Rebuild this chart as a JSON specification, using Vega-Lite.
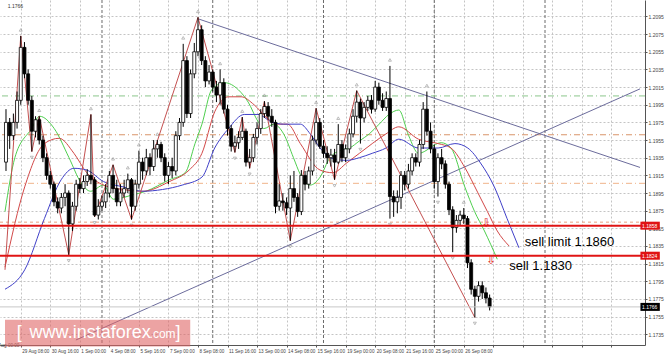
{
"$schema":"https://vega.github.io/schema/vega-lite/v6.json",
"width":645,"height":345,"padding":{"left":0,"top":0,"right":20,"bottom":13},"autosize":{"type":"none"},
"background":"#ffffff",
"config":{"view":{"stroke":null},"axis":{"labelFont":"Liberation Sans","labelFontSize":5,"labelColor":"#444"}},
"resolve":{"scale":{"color":"independent","strokeDash":"independent"},"axis":{"x":"independent","y":"independent"}},
"datasets":{
"candles":[
{"t":-4,"o":1.193,"h":1.199,"l":1.192,"c":1.1975},
{"t":-3,"o":1.1975,"h":1.198,"l":1.1945,"c":1.196},
{"t":-2,"o":1.196,"h":1.1985,"l":1.1955,"c":1.1975},
{"t":-1,"o":1.1975,"h":1.201,"l":1.1968,"c":1.2},
{"t":0,"o":1.2,"h":1.2073,"l":1.1995,"c":1.206},
{"t":1,"o":1.206,"h":1.2066,"l":1.2025,"c":1.203},
{"t":2,"o":1.203,"h":1.2035,"l":1.1995,"c":1.2},
{"t":3,"o":1.2,"h":1.2005,"l":1.1942,"c":1.1965},
{"t":4,"o":1.1965,"h":1.1982,"l":1.1958,"c":1.1978},
{"t":5,"o":1.1978,"h":1.1982,"l":1.195,"c":1.1955},
{"t":6,"o":1.1955,"h":1.196,"l":1.193,"c":1.1935},
{"t":7,"o":1.1935,"h":1.194,"l":1.191,"c":1.1915},
{"t":8,"o":1.1915,"h":1.192,"l":1.19,"c":1.1905},
{"t":9,"o":1.1905,"h":1.1908,"l":1.188,"c":1.1885},
{"t":10,"o":1.1885,"h":1.189,"l":1.1872,"c":1.1878},
{"t":11,"o":1.1878,"h":1.1895,"l":1.1872,"c":1.189},
{"t":12,"o":1.189,"h":1.1905,"l":1.188,"c":1.1895},
{"t":13,"o":1.1895,"h":1.1898,"l":1.1825,"c":1.186},
{"t":14,"o":1.186,"h":1.1885,"l":1.1852,"c":1.188},
{"t":15,"o":1.188,"h":1.191,"l":1.1875,"c":1.1905},
{"t":16,"o":1.1905,"h":1.1912,"l":1.1895,"c":1.19},
{"t":17,"o":1.19,"h":1.1915,"l":1.1895,"c":1.1908},
{"t":18,"o":1.1908,"h":1.1922,"l":1.1903,"c":1.1915},
{"t":19,"o":1.1915,"h":1.1984,"l":1.1905,"c":1.191},
{"t":20,"o":1.191,"h":1.1913,"l":1.1868,"c":1.187},
{"t":21,"o":1.187,"h":1.1888,"l":1.1865,"c":1.188},
{"t":22,"o":1.188,"h":1.1892,"l":1.1875,"c":1.1885},
{"t":23,"o":1.1885,"h":1.1905,"l":1.1878,"c":1.1895},
{"t":24,"o":1.1895,"h":1.192,"l":1.189,"c":1.1915},
{"t":25,"o":1.1915,"h":1.1927,"l":1.1895,"c":1.19},
{"t":26,"o":1.19,"h":1.191,"l":1.188,"c":1.1885},
{"t":27,"o":1.1885,"h":1.1905,"l":1.188,"c":1.1895},
{"t":28,"o":1.1895,"h":1.191,"l":1.189,"c":1.19},
{"t":29,"o":1.19,"h":1.1917,"l":1.1895,"c":1.191},
{"t":30,"o":1.191,"h":1.1912,"l":1.1865,"c":1.188},
{"t":31,"o":1.188,"h":1.191,"l":1.1875,"c":1.1905},
{"t":32,"o":1.1905,"h":1.1943,"l":1.19,"c":1.193},
{"t":33,"o":1.193,"h":1.1935,"l":1.191,"c":1.192},
{"t":34,"o":1.192,"h":1.1945,"l":1.1915,"c":1.1935},
{"t":35,"o":1.1935,"h":1.194,"l":1.1915,"c":1.1925},
{"t":36,"o":1.1925,"h":1.1955,"l":1.192,"c":1.1945},
{"t":37,"o":1.1945,"h":1.1955,"l":1.1935,"c":1.195},
{"t":38,"o":1.195,"h":1.1953,"l":1.193,"c":1.1935},
{"t":39,"o":1.1935,"h":1.194,"l":1.1908,"c":1.1915},
{"t":40,"o":1.1915,"h":1.193,"l":1.1905,"c":1.1925},
{"t":41,"o":1.1925,"h":1.1935,"l":1.1912,"c":1.192},
{"t":42,"o":1.192,"h":1.1965,"l":1.1915,"c":1.196},
{"t":43,"o":1.196,"h":1.198,"l":1.1955,"c":1.1975},
{"t":44,"o":1.1975,"h":1.2064,"l":1.197,"c":1.2045},
{"t":45,"o":1.2045,"h":1.205,"l":1.198,"c":1.1985},
{"t":46,"o":1.1985,"h":1.2035,"l":1.198,"c":1.203},
{"t":47,"o":1.203,"h":1.2065,"l":1.2025,"c":1.2055},
{"t":48,"o":1.2055,"h":1.2094,"l":1.205,"c":1.208},
{"t":49,"o":1.208,"h":1.2085,"l":1.204,"c":1.2045},
{"t":50,"o":1.2045,"h":1.205,"l":1.2015,"c":1.2022},
{"t":51,"o":1.2022,"h":1.204,"l":1.2018,"c":1.2032},
{"t":52,"o":1.2032,"h":1.2035,"l":1.201,"c":1.2015},
{"t":53,"o":1.2015,"h":1.2022,"l":1.1998,"c":1.2006},
{"t":54,"o":1.2006,"h":1.2035,"l":1.1995,"c":1.202},
{"t":55,"o":1.202,"h":1.2025,"l":1.1985,"c":1.199},
{"t":56,"o":1.199,"h":1.1995,"l":1.196,"c":1.1968},
{"t":57,"o":1.1968,"h":1.1972,"l":1.1942,"c":1.1948},
{"t":58,"o":1.1948,"h":1.196,"l":1.1941,"c":1.1952},
{"t":59,"o":1.1952,"h":1.1965,"l":1.1945,"c":1.1958},
{"t":60,"o":1.1958,"h":1.1981,"l":1.1955,"c":1.1965},
{"t":61,"o":1.1965,"h":1.1968,"l":1.1925,"c":1.193},
{"t":62,"o":1.193,"h":1.1945,"l":1.1923,"c":1.1935},
{"t":63,"o":1.1935,"h":1.1962,"l":1.193,"c":1.1958},
{"t":64,"o":1.1958,"h":1.1975,"l":1.195,"c":1.1968},
{"t":65,"o":1.1968,"h":1.199,"l":1.1962,"c":1.1985},
{"t":66,"o":1.1985,"h":1.1999,"l":1.198,"c":1.1993},
{"t":67,"o":1.1993,"h":1.1998,"l":1.1978,"c":1.1982},
{"t":68,"o":1.1982,"h":1.199,"l":1.197,"c":1.1975},
{"t":69,"o":1.1975,"h":1.1978,"l":1.1872,"c":1.188},
{"t":70,"o":1.188,"h":1.1905,"l":1.1875,"c":1.1886},
{"t":71,"o":1.1886,"h":1.1895,"l":1.1875,"c":1.1884},
{"t":72,"o":1.1884,"h":1.189,"l":1.187,"c":1.1878},
{"t":73,"o":1.1878,"h":1.1915,"l":1.1841,"c":1.19},
{"t":74,"o":1.19,"h":1.192,"l":1.1885,"c":1.189},
{"t":75,"o":1.189,"h":1.1895,"l":1.1868,"c":1.1874},
{"t":76,"o":1.1874,"h":1.1921,"l":1.187,"c":1.1915},
{"t":77,"o":1.1915,"h":1.192,"l":1.1898,"c":1.1905},
{"t":78,"o":1.1905,"h":1.1925,"l":1.19,"c":1.192},
{"t":79,"o":1.192,"h":1.196,"l":1.1915,"c":1.1955},
{"t":80,"o":1.1955,"h":1.1991,"l":1.195,"c":1.1975},
{"t":81,"o":1.1975,"h":1.198,"l":1.1945,"c":1.1948},
{"t":82,"o":1.1948,"h":1.1955,"l":1.1935,"c":1.194},
{"t":83,"o":1.194,"h":1.1948,"l":1.1928,"c":1.1935},
{"t":84,"o":1.1935,"h":1.1945,"l":1.1925,"c":1.1938},
{"t":85,"o":1.1938,"h":1.1945,"l":1.191,"c":1.193},
{"t":86,"o":1.193,"h":1.1973,"l":1.1928,"c":1.195},
{"t":87,"o":1.195,"h":1.1955,"l":1.193,"c":1.1935},
{"t":88,"o":1.1935,"h":1.195,"l":1.193,"c":1.1945},
{"t":89,"o":1.1945,"h":1.1968,"l":1.194,"c":1.1962},
{"t":90,"o":1.1962,"h":1.199,"l":1.1958,"c":1.1982},
{"t":91,"o":1.1982,"h":1.2011,"l":1.1975,"c":1.1998},
{"t":92,"o":1.1998,"h":1.2002,"l":1.1951,"c":1.198},
{"t":93,"o":1.198,"h":1.1998,"l":1.1975,"c":1.1992},
{"t":94,"o":1.1992,"h":1.2005,"l":1.1988,"c":1.2},
{"t":95,"o":1.2,"h":1.2006,"l":1.1985,"c":1.199},
{"t":96,"o":1.199,"h":1.2022,"l":1.1987,"c":1.2015},
{"t":97,"o":1.2015,"h":1.202,"l":1.1995,"c":1.2},
{"t":98,"o":1.2,"h":1.2008,"l":1.1988,"c":1.1992},
{"t":99,"o":1.1992,"h":1.201,"l":1.1988,"c":1.2002},
{"t":100,"o":1.2002,"h":1.2039,"l":1.1866,"c":1.1891},
{"t":101,"o":1.1891,"h":1.1898,"l":1.1868,"c":1.1885},
{"t":102,"o":1.1885,"h":1.1898,"l":1.1872,"c":1.189},
{"t":103,"o":1.189,"h":1.192,"l":1.1877,"c":1.1915},
{"t":104,"o":1.1915,"h":1.192,"l":1.1898,"c":1.1905},
{"t":105,"o":1.1905,"h":1.1928,"l":1.19,"c":1.192},
{"t":106,"o":1.192,"h":1.194,"l":1.1915,"c":1.1935},
{"t":107,"o":1.1935,"h":1.194,"l":1.1925,"c":1.193},
{"t":108,"o":1.193,"h":1.1955,"l":1.1925,"c":1.195},
{"t":109,"o":1.195,"h":1.1998,"l":1.1945,"c":1.199},
{"t":110,"o":1.199,"h":1.201,"l":1.196,"c":1.1965},
{"t":111,"o":1.1965,"h":1.1975,"l":1.194,"c":1.1945},
{"t":112,"o":1.1945,"h":1.195,"l":1.19,"c":1.1908},
{"t":113,"o":1.1908,"h":1.194,"l":1.1891,"c":1.1935},
{"t":114,"o":1.1935,"h":1.1945,"l":1.1922,"c":1.1928},
{"t":115,"o":1.1928,"h":1.1932,"l":1.19,"c":1.1905},
{"t":116,"o":1.1905,"h":1.1908,"l":1.187,"c":1.1876},
{"t":117,"o":1.1876,"h":1.188,"l":1.1828,"c":1.1856},
{"t":118,"o":1.1856,"h":1.187,"l":1.185,"c":1.1864},
{"t":119,"o":1.1864,"h":1.1875,"l":1.1858,"c":1.187},
{"t":120,"o":1.187,"h":1.1878,"l":1.186,"c":1.1866},
{"t":121,"o":1.1866,"h":1.1869,"l":1.181,"c":1.1816},
{"t":122,"o":1.1816,"h":1.182,"l":1.178,"c":1.1786},
{"t":123,"o":1.1786,"h":1.179,"l":1.1754,"c":1.1778},
{"t":124,"o":1.1778,"h":1.1795,"l":1.1772,"c":1.179},
{"t":125,"o":1.179,"h":1.1795,"l":1.1775,"c":1.1782},
{"t":126,"o":1.1782,"h":1.1788,"l":1.177,"c":1.1776},
{"t":127,"o":1.1776,"h":1.178,"l":1.1762,"c":1.1766}
],
"fup":[{"t":0,"p":1.2073},{"t":5,"p":1.1982},{"t":19,"p":1.1984},{"t":25,"p":1.1927},{"t":29,"p":1.1917},{"t":32,"p":1.1943},{"t":37,"p":1.1955},{"t":44,"p":1.2064},{"t":48,"p":1.2094},{"t":54,"p":1.2035},{"t":60,"p":1.1981},{"t":66,"p":1.1999},{"t":80,"p":1.1991},{"t":86,"p":1.1973},{"t":91,"p":1.2011},{"t":100,"p":1.2039},{"t":110,"p":1.201},{"t":120,"p":1.1878}],
"fdn":[{"t":3,"p":1.1942},{"t":13,"p":1.1825},{"t":20,"p":1.1868},{"t":30,"p":1.1865},{"t":58,"p":1.1941},{"t":62,"p":1.1923},{"t":73,"p":1.1841},{"t":85,"p":1.191},{"t":92,"p":1.1951},{"t":100,"p":1.1866},{"t":113,"p":1.1891},{"t":117,"p":1.1828},{"t":123,"p":1.1754}],
"ma":[
{"m":"lips","t":-4.27,"p":1.1874},{"m":"lips","t":-1.6,"p":1.1935},{"m":"lips","t":2.93,"p":1.1968},{"m":"lips","t":5.07,"p":1.1982},{"m":"lips","t":9.07,"p":1.1968},{"m":"lips","t":13.07,"p":1.1935},{"m":"lips","t":16.27,"p":1.1907},{"m":"lips","t":18.93,"p":1.1897},{"m":"lips","t":22.4,"p":1.1904},{"m":"lips","t":25.07,"p":1.1888},{"m":"lips","t":30.4,"p":1.1893},{"m":"lips","t":33.87,"p":1.1897},{"m":"lips","t":40.27,"p":1.191},{"m":"lips","t":44.53,"p":1.1918},{"m":"lips","t":47.2,"p":1.1951},{"m":"lips","t":49.07,"p":1.1973},{"m":"lips","t":51.73,"p":1.2012},{"m":"lips","t":55.2,"p":1.202},{"m":"lips","t":58.93,"p":1.2012},{"m":"lips","t":61.6,"p":1.1998},{"m":"lips","t":64.27,"p":1.1976},{"m":"lips","t":65.87,"p":1.1968},{"m":"lips","t":68.53,"p":1.1973},{"m":"lips","t":71.2,"p":1.1962},{"m":"lips","t":73.87,"p":1.1935},{"m":"lips","t":75.73,"p":1.1916},{"m":"lips","t":78.4,"p":1.1904},{"m":"lips","t":81.07,"p":1.1913},{"m":"lips","t":83.73,"p":1.1935},{"m":"lips","t":86.4,"p":1.1943},{"m":"lips","t":89.07,"p":1.1946},{"m":"lips","t":91.73,"p":1.1954},{"m":"lips","t":94.4,"p":1.1962},{"m":"lips","t":97.07,"p":1.1973},{"m":"lips","t":99.73,"p":1.1984},{"m":"lips","t":102.4,"p":1.1989},{"m":"lips","t":105.07,"p":1.196},{"m":"lips","t":107.73,"p":1.194},{"m":"lips","t":113.87,"p":1.1952},{"m":"lips","t":116.53,"p":1.1946},{"m":"lips","t":120.27,"p":1.1902},{"m":"lips","t":122.93,"p":1.1874},{"m":"lips","t":125.6,"p":1.1852},{"m":"lips","t":129.07,"p":1.182},
{"m":"teeth","t":-4.27,"p":1.1811},{"m":"teeth","t":1.07,"p":1.1902},{"m":"teeth","t":6.4,"p":1.1951},{"m":"teeth","t":10.4,"p":1.1957},{"m":"teeth","t":14.4,"p":1.194},{"m":"teeth","t":17.87,"p":1.1918},{"m":"teeth","t":22.4,"p":1.1904},{"m":"teeth","t":27.73,"p":1.1899},{"m":"teeth","t":33.07,"p":1.1897},{"m":"teeth","t":40.27,"p":1.1908},{"m":"teeth","t":45.6,"p":1.1921},{"m":"teeth","t":49.07,"p":1.194},{"m":"teeth","t":52.53,"p":1.1987},{"m":"teeth","t":56.27,"p":1.2004},{"m":"teeth","t":59.73,"p":1.2004},{"m":"teeth","t":63.2,"p":1.1995},{"m":"teeth","t":66.93,"p":1.1979},{"m":"teeth","t":69.6,"p":1.1973},{"m":"teeth","t":72.27,"p":1.1973},{"m":"teeth","t":75.73,"p":1.1951},{"m":"teeth","t":81.07,"p":1.1921},{"m":"teeth","t":84.53,"p":1.1918},{"m":"teeth","t":88.27,"p":1.1929},{"m":"teeth","t":91.73,"p":1.194},{"m":"teeth","t":95.2,"p":1.1951},{"m":"teeth","t":98.93,"p":1.1962},{"m":"teeth","t":102.4,"p":1.197},{"m":"teeth","t":107.73,"p":1.1956},{"m":"teeth","t":113.07,"p":1.1951},{"m":"teeth","t":116.53,"p":1.1946},{"m":"teeth","t":120.27,"p":1.1924},{"m":"teeth","t":123.73,"p":1.1896},{"m":"teeth","t":126.4,"p":1.1874},{"m":"teeth","t":129.07,"p":1.1852},{"m":"teeth","t":132.27,"p":1.1835},
{"m":"jaw","t":-4.27,"p":1.1786},{"m":"jaw","t":1.07,"p":1.1808},{"m":"jaw","t":6.4,"p":1.1866},{"m":"jaw","t":10.93,"p":1.191},{"m":"jaw","t":14.4,"p":1.1923},{"m":"jaw","t":17.87,"p":1.1921},{"m":"jaw","t":22.4,"p":1.1908},{"m":"jaw","t":27.73,"p":1.1902},{"m":"jaw","t":33.07,"p":1.1897},{"m":"jaw","t":38.4,"p":1.1899},{"m":"jaw","t":43.73,"p":1.1904},{"m":"jaw","t":49.07,"p":1.1913},{"m":"jaw","t":52.53,"p":1.1946},{"m":"jaw","t":56.27,"p":1.1968},{"m":"jaw","t":60.53,"p":1.1984},{"m":"jaw","t":64.27,"p":1.1984},{"m":"jaw","t":67.73,"p":1.1976},{"m":"jaw","t":71.2,"p":1.1973},{"m":"jaw","t":75.73,"p":1.1973},{"m":"jaw","t":78.4,"p":1.1962},{"m":"jaw","t":81.07,"p":1.1946},{"m":"jaw","t":84.53,"p":1.1934},{"m":"jaw","t":88.27,"p":1.1932},{"m":"jaw","t":91.73,"p":1.1935},{"m":"jaw","t":95.2,"p":1.194},{"m":"jaw","t":98.93,"p":1.1946},{"m":"jaw","t":102.4,"p":1.1956},{"m":"jaw","t":107.73,"p":1.1946},{"m":"jaw","t":113.07,"p":1.1946},{"m":"jaw","t":117.6,"p":1.1951},{"m":"jaw","t":121.07,"p":1.1946},{"m":"jaw","t":124.53,"p":1.1929},{"m":"jaw","t":128.27,"p":1.1902},{"m":"jaw","t":131.73,"p":1.1866},{"m":"jaw","t":134.93,"p":1.1833}
],
"zigzag":[{"t":-4.27,"p":1.1808},{"t":0,"p":1.2073},{"t":3,"p":1.1942},{"t":5,"p":1.1982},{"t":13,"p":1.1825},{"t":19,"p":1.1984},{"t":20,"p":1.1868},{"t":25,"p":1.1927},{"t":30,"p":1.1865},{"t":48,"p":1.2094},{"t":58,"p":1.1941},{"t":60,"p":1.1981},{"t":62,"p":1.1923},{"t":66,"p":1.1999},{"t":73,"p":1.1841},{"t":80,"p":1.1991},{"t":85,"p":1.191},{"t":91,"p":1.2011},{"t":123,"p":1.1754}],
"trend":[{"id":"a","t":48.27,"p":1.2092},{"id":"a","t":167.73,"p":1.1924},{"id":"b","t":14.93,"p":1.17285},{"id":"b","t":167.73,"p":1.2013}],
"weeks":[{"t":22},{"t":52},{"t":82},{"t":112},{"t":142}],
"levels":[{"k":"g","p":1.2005},{"k":"o1","p":1.1961},{"k":"o2","p":1.1906},{"k":"o3","p":1.1862}],
"orders":[{"p":1.1858},{"p":1.1824}],
"tags":[{"k":"r","p":1.1858},{"k":"r","p":1.1824},{"k":"b","p":1.1766}]
},
"layer":[
{"data":{"name":"candles"},"mark":{"type":"rule","opacity":0},
 "encoding":{
  "x":{"field":"t","type":"quantitative","scale":{"domain":[-4.27,167.73],"nice":false,"zero":false},
   "axis":{"title":null,"orient":"bottom","values":[0,8,16,24,32,40,48,56,64,72,80,88,96,104,112,120,128,136,144,152,160],
    "labelExpr":"['29 Aug 08:00','30 Aug 16:00','1 Sep 00:00','4 Sep 08:00','5 Sep 16:00','7 Sep 00:00','8 Sep 08:00','11 Sep 16:00','13 Sep 00:00','14 Sep 08:00','15 Sep 16:00','19 Sep 00:00','20 Sep 08:00','21 Sep 16:00','25 Sep 00:00','26 Sep 08:00'][datum.value/8] || ''",
    "labelAlign":"left","labelBaseline":"top","labelPadding":1,"labelOverlap":false,"labelBound":false,"labelFlush":false,"labelFontSize":4.6,"labelOffset":1,
    "tickSize":2,"tickColor":"#555","domainColor":"#555","grid":true,"gridColor":"#c4c4c4","gridDash":[2,2]}},
  "y":{"field":"c","type":"quantitative","scale":{"domain":[1.17285,1.2108],"nice":false,"zero":false},
   "axis":{"title":null,"orient":"right","values":[1.1735,1.1755,1.1775,1.1795,1.1815,1.1835,1.1855,1.1875,1.1895,1.1915,1.1935,1.1955,1.1975,1.1995,1.2015,1.2035,1.2055,1.2075,1.2095],
    "format":".4f","labelPadding":1,"tickSize":2,"tickColor":"#555","domainColor":"#555","labelOverlap":false,"labelBound":false,"labelFlush":false,
    "grid":true,"gridColor":"#c4c4c4","gridDash":[2,2]}}}},
{"data":{"values":[{}]},"mark":{"type":"text","text":"28 Aug 00:00","font":"Liberation Sans","fontSize":4.6,"color":"#444","align":"left","baseline":"top","dy":3},
 "encoding":{"x":{"datum":-7.7,"type":"quantitative","scale":{"domain":[-4.27,167.73],"nice":false,"zero":false},"axis":null},
  "y":{"datum":1.17285,"type":"quantitative","scale":{"domain":[1.17285,1.2108],"nice":false,"zero":false},"axis":null}}},
{"data":{"values":[{}]},"mark":{"type":"text","text":"1.1766","font":"Liberation Sans","fontSize":5,"color":"#333","align":"left","baseline":"top","dy":-1},
 "encoding":{"x":{"datum":-3.5,"type":"quantitative","scale":{"domain":[-4.27,167.73],"nice":false,"zero":false},"axis":null},
  "y":{"datum":1.2108,"type":"quantitative","scale":{"domain":[1.17285,1.2108],"nice":false,"zero":false},"axis":null}}},
{"data":{"name":"weeks"},"mark":{"type":"rule","color":"#6a6a6a","strokeDash":[3,2],"strokeWidth":1},
 "encoding":{"x":{"field":"t","type":"quantitative","scale":{"domain":[-4.27,167.73],"nice":false,"zero":false},"axis":null}}},
{"data":{"name":"levels"},"mark":{"type":"rule","strokeWidth":1},
 "encoding":{"y":{"field":"p","type":"quantitative","scale":{"domain":[1.17285,1.2108],"nice":false,"zero":false},"axis":null},
  "color":{"field":"k","type":"nominal","scale":{"domain":["g","o1","o2","o3"],"range":["#8cc68c","#d9956a","#f0b48a","#e8a080"]},"legend":null},
  "strokeDash":{"field":"k","type":"nominal","scale":{"domain":["g","o1","o2","o3"],"range":[[6,3,1,3],[6,3,1,3],[6,3,1,3],[3,3]]},"legend":null}}},
{"data":{"name":"trend"},"mark":{"type":"line","color":"#6c6c9c","strokeWidth":1,"clip":true},
 "encoding":{"x":{"field":"t","type":"quantitative","scale":{"domain":[-4.27,167.73],"nice":false,"zero":false},"axis":null},
  "y":{"field":"p","type":"quantitative","scale":{"domain":[1.17285,1.2108],"nice":false,"zero":false},"axis":null},
  "detail":{"field":"id"}}},
{"data":{"name":"ma"},"mark":{"type":"line","strokeWidth":1,"interpolate":"monotone","clip":true},
 "encoding":{"x":{"field":"t","type":"quantitative","scale":{"domain":[-4.27,167.73],"nice":false,"zero":false},"axis":null},
  "y":{"field":"p","type":"quantitative","scale":{"domain":[1.17285,1.2108],"nice":false,"zero":false},"axis":null},
  "color":{"field":"m","type":"nominal","scale":{"domain":["lips","teeth","jaw"],"range":["#4fcf4f","#d24848","#4040c8"]},"legend":null}}},
{"data":{"name":"zigzag"},"mark":{"type":"line","strokeWidth":1,"color":"#c45050","clip":true},
 "encoding":{"x":{"field":"t","type":"quantitative","scale":{"domain":[-4.27,167.73],"nice":false,"zero":false},"axis":null},
  "y":{"field":"p","type":"quantitative","scale":{"domain":[1.17285,1.2108],"nice":false,"zero":false},"axis":null}}},
{"data":{"name":"candles"},"mark":{"type":"rule","color":"#000","strokeWidth":1},
 "encoding":{"x":{"field":"t","type":"quantitative","scale":{"domain":[-4.27,167.73],"nice":false,"zero":false},"axis":null},
  "y":{"field":"l","type":"quantitative","scale":{"domain":[1.17285,1.2108],"nice":false,"zero":false},"axis":null},
  "y2":{"field":"h"}}},
{"data":{"name":"candles"},"mark":{"type":"bar","width":3,"stroke":"#000","strokeWidth":0.8},
 "encoding":{"x":{"field":"t","type":"quantitative","scale":{"domain":[-4.27,167.73],"nice":false,"zero":false},"axis":null},
  "y":{"field":"o","type":"quantitative","scale":{"domain":[1.17285,1.2108],"nice":false,"zero":false},"axis":null},
  "y2":{"field":"c"},
  "color":{"condition":{"test":"datum.c >= datum.o","value":"#ffffff"},"value":"#000000"}}},
{"data":{"name":"fup"},"mark":{"type":"point","shape":"triangle-up","size":9,"filled":false,"color":"#8c8c8c","strokeWidth":0.8,"yOffset":-6},
 "encoding":{"x":{"field":"t","type":"quantitative","scale":{"domain":[-4.27,167.73],"nice":false,"zero":false},"axis":null},
  "y":{"field":"p","type":"quantitative","scale":{"domain":[1.17285,1.2108],"nice":false,"zero":false},"axis":null}}},
{"data":{"name":"fdn"},"mark":{"type":"point","shape":"triangle-down","size":9,"filled":false,"color":"#8c8c8c","strokeWidth":0.8,"yOffset":6},
 "encoding":{"x":{"field":"t","type":"quantitative","scale":{"domain":[-4.27,167.73],"nice":false,"zero":false},"axis":null},
  "y":{"field":"p","type":"quantitative","scale":{"domain":[1.17285,1.2108],"nice":false,"zero":false},"axis":null}}},
{"data":{"name":"orders"},"mark":{"type":"rule","color":"#e01414","strokeWidth":2},
 "encoding":{"y":{"field":"p","type":"quantitative","scale":{"domain":[1.17285,1.2108],"nice":false,"zero":false},"axis":null}}},
{"data":{"values":[{"p":1.1766}]},"mark":{"type":"rule","color":"#c8c8c8","strokeWidth":1},
 "encoding":{"y":{"field":"p","type":"quantitative","scale":{"domain":[1.17285,1.2108],"nice":false,"zero":false},"axis":null}}},
{"data":{"values":[{"p":1.18616,"t":126.13},{"p":1.18187,"t":127.47}]},"mark":{"type":"text","text":"⇩","font":"DejaVu Sans","fontSize":12,"color":"#e02020","align":"center","baseline":"middle"},
 "encoding":{"x":{"field":"t","type":"quantitative","scale":{"domain":[-4.27,167.73],"nice":false,"zero":false},"axis":null},
  "y":{"field":"p","type":"quantitative","scale":{"domain":[1.17285,1.2108],"nice":false,"zero":false},"axis":null}}},
{"data":{"values":[{}]},"mark":{"type":"text","text":"sell limit 1.1860","font":"Liberation Sans","fontSize":13,"color":"#000","align":"left","baseline":"alphabetic"},
 "encoding":{"x":{"datum":136.5,"type":"quantitative","scale":{"domain":[-4.27,167.73],"nice":false,"zero":false},"axis":null},
  "y":{"datum":1.1835,"type":"quantitative","scale":{"domain":[1.17285,1.2108],"nice":false,"zero":false},"axis":null}}},
{"data":{"values":[{}]},"mark":{"type":"text","text":"sell 1.1830","font":"Liberation Sans","fontSize":13,"color":"#000","align":"left","baseline":"alphabetic"},
 "encoding":{"x":{"datum":132.3,"type":"quantitative","scale":{"domain":[-4.27,167.73],"nice":false,"zero":false},"axis":null},
  "y":{"datum":1.18074,"type":"quantitative","scale":{"domain":[1.17285,1.2108],"nice":false,"zero":false},"axis":null}}},
{"data":{"name":"tags"},"mark":{"type":"bar","height":8},
 "encoding":{"x":{"datum":167.85,"type":"quantitative","scale":{"domain":[-4.27,167.73],"nice":false,"zero":false},"axis":null},
  "x2":{"datum":173.1},
  "y":{"field":"p","type":"quantitative","scale":{"domain":[1.17285,1.2108],"nice":false,"zero":false},"axis":null},
  "color":{"field":"k","type":"nominal","scale":{"domain":["r","b"],"range":["#e01414","#000000"]},"legend":null}}},
{"data":{"name":"tags"},"mark":{"type":"text","font":"Liberation Sans","fontSize":5,"color":"#ffffff","align":"left","baseline":"middle"},
 "encoding":{"x":{"datum":168.3,"type":"quantitative","scale":{"domain":[-4.27,167.73],"nice":false,"zero":false},"axis":null},
  "y":{"field":"p","type":"quantitative","scale":{"domain":[1.17285,1.2108],"nice":false,"zero":false},"axis":null},
  "text":{"field":"p","type":"quantitative","format":".4f"}}},
{"data":{"values":[{}]},"mark":{"type":"rect","color":"#e06666","opacity":0.6},
 "encoding":{"x":{"datum":-4.27,"type":"quantitative","scale":{"domain":[-4.27,167.73],"nice":false,"zero":false},"axis":null},
  "x2":{"datum":45.9},
  "y":{"datum":1.17515,"type":"quantitative","scale":{"domain":[1.17285,1.2108],"nice":false,"zero":false},"axis":null},
  "y2":{"datum":1.1721}}},
{"data":{"values":[{}]},"mark":{"type":"text","text":"[","font":"Liberation Sans","fontSize":18,"color":"#ffffff","align":"left","baseline":"alphabetic"},
 "encoding":{"x":{"datum":-1.07,"type":"quantitative","scale":{"domain":[-4.27,167.73],"nice":false,"zero":false},"axis":null},
  "y":{"datum":1.17307,"type":"quantitative","scale":{"domain":[1.17285,1.2108],"nice":false,"zero":false},"axis":null}}},
{"data":{"values":[{}]},"mark":{"type":"text","text":"www.instaforex","font":"Liberation Sans","fontSize":18,"color":"#ffffff","align":"left","baseline":"alphabetic"},
 "encoding":{"x":{"datum":2.4,"type":"quantitative","scale":{"domain":[-4.27,167.73],"nice":false,"zero":false},"axis":null},
  "y":{"datum":1.17307,"type":"quantitative","scale":{"domain":[1.17285,1.2108],"nice":false,"zero":false},"axis":null}}},
{"data":{"values":[{}]},"mark":{"type":"text","text":".com","font":"Liberation Sans","fontSize":12,"color":"#ffffff","align":"left","baseline":"alphabetic"},
 "encoding":{"x":{"datum":34.9,"type":"quantitative","scale":{"domain":[-4.27,167.73],"nice":false,"zero":false},"axis":null},
  "y":{"datum":1.17307,"type":"quantitative","scale":{"domain":[1.17285,1.2108],"nice":false,"zero":false},"axis":null}}},
{"data":{"values":[{}]},"mark":{"type":"text","text":"]","font":"Liberation Sans","fontSize":18,"color":"#ffffff","align":"left","baseline":"alphabetic"},
 "encoding":{"x":{"datum":41.9,"type":"quantitative","scale":{"domain":[-4.27,167.73],"nice":false,"zero":false},"axis":null},
  "y":{"datum":1.17307,"type":"quantitative","scale":{"domain":[1.17285,1.2108],"nice":false,"zero":false},"axis":null}}}
]
}
